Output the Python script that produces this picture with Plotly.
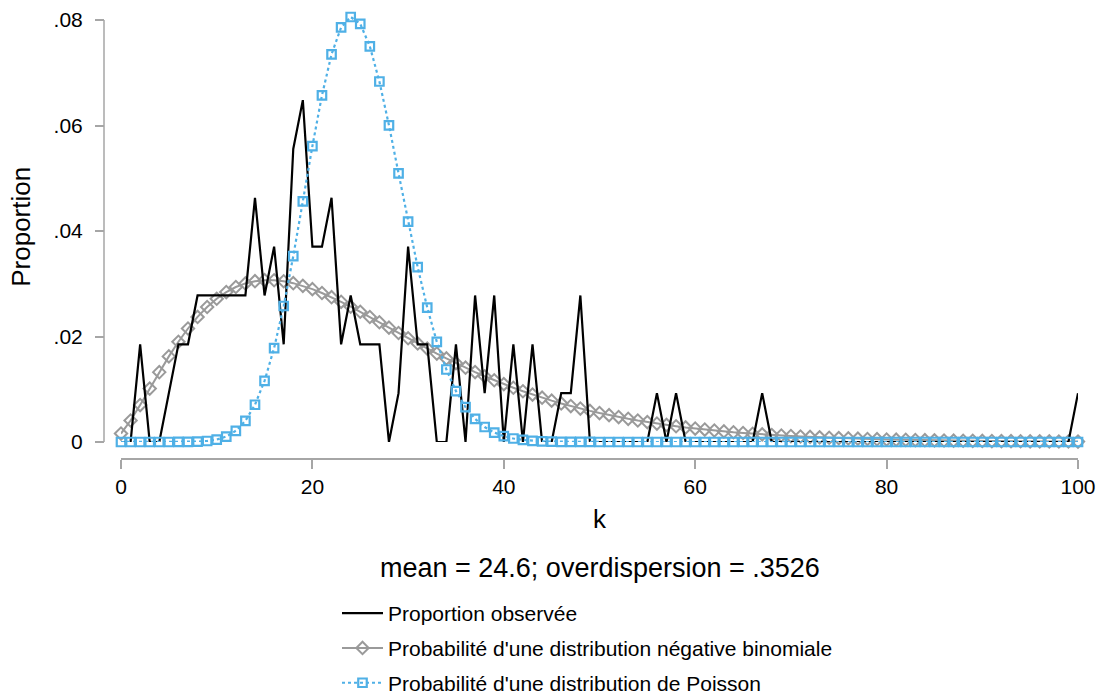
import plotly.graph_objects as go

# Observed count k = 0..100
k_values = list(range(101))

# Observed proportion for each k
observed = [
    0, 0, .01852, 0, 0, .00926, .01852, .01852, .02778, .02778,
    .02778, .02778, .02778, .02778, .04630, .02778, .03704, .01852, .05556, .06481,
    .03704, .03704, .04630, .01852, .02778, .01852, .01852, .01852, 0, .00926,
    .03704, .01852, .01852, 0, 0, .01852, 0, .02778, .00926, .02778,
    0, .01852, 0, .01852, 0, 0, .00926, .00926, .02778, 0,
    0, 0, 0, 0, 0, 0, .00926, 0, .00926, 0,
    0, 0, 0, 0, 0, 0, 0, .00926, 0, 0,
    0, 0, 0, 0, 0, 0, 0, 0, 0, 0,
    0, 0, 0, 0, 0, 0, 0, 0, 0, 0,
    0, 0, 0, 0, 0, 0, 0, 0, 0, 0,
    .00926,
]

# Negative binomial probabilities
negbin = [
    .00160, .00407, .00700, .01012, .01324, .01623, .01900, .02151, .02371, .02559,
    .02716, .02842, .02938, .03006, .03049, .03068, .03067, .03047, .03011, .02960,
    .02898, .02825, .02745, .02658, .02565, .02469, .02370, .02270, .02168, .02067,
    .01967, .01868, .01771, .01676, .01584, .01495, .01409, .01326, .01246, .01170,
    .01097, .01028, .00962, .00899, .00840, .00784, .00731, .00681, .00634, .00590,
    .00548, .00509, .00473, .00439, .00407, .00377, .00349, .00323, .00299, .00276,
    .00255, .00236, .00218, .00201, .00185, .00171, .00157, .00145, .00133, .00123,
    .00113, .00104, .00096, .00088, .00081, .00074, .00068, .00063, .00057, .00053,
    .00048, .00044, .00041, .00037, .00034, .00031, .00029, .00026, .00024, .00022,
    .00020, .00018, .00017, .00015, .00014, .00013, .00012, .00011, .00010, .00009,
    .00008,
]

# Poisson probabilities
poisson = [
    2.1e-11, 5.1e-10, 6.3e-9, 5.2e-8, 3.2e-7, 1.6e-6, 6.4e-6, 2.24e-5, 6.89e-5, 1.88e-4,
    .000463, .001036, .002125, .004021, .007065, .01159, .01781, .02578, .03523, .04561,
    .05610, .06572, .07349, .07860, .08057, .07928, .07501, .06834, .06004, .05093,
    .04176, .03314, .02548, .01899, .01374, .00966, .00660, .00439, .00284, .00179,
    .00110, .00066, .00039, .00022, .00012, 6.78e-5, 3.63e-5, 1.90e-5, 9.7e-6, 4.9e-6,
    2.4e-6, 1.2e-6, 5.5e-7, 2.5e-7, 1.1e-7, 5e-8, 2e-8, 1e-8, 0, 0,
    0, 0, 0, 0, 0, 0, 0, 0, 0, 0,
    0, 0, 0, 0, 0, 0, 0, 0, 0, 0,
    0, 0, 0, 0, 0, 0, 0, 0, 0, 0,
    0, 0, 0, 0, 0, 0, 0, 0, 0, 0,
    0,
]

x_ticks = [0, 20, 40, 60, 80, 100]
y_ticks = [0, .02, .04, .06, .08]
y_tick_labels = ["0", ".02", ".04", ".06", ".08"]

W, H = 1103, 698
FONT = "Liberation Sans, Arial, Helvetica, sans-serif"
AXIS_GREY = "#a6a6a6"
BLUE = "#4fb0e6"
GREY = "#9a9a9a"

# pixel geometry of the plotting region
X0_PX, X100_PX = 121, 1078          # k = 0 and k = 100
Y0_PX, Y08_PX = 442, 20             # proportion 0 and .08
Y_TOP = 0.0816                      # a little head-room above .08
px_per_unit = (Y0_PX - Y08_PX) / 0.08
ytop_px = Y0_PX - Y_TOP * px_per_unit

fig = go.Figure()

fig.add_trace(go.Scatter(
    x=k_values, y=negbin, mode="lines+markers",
    name="Probabilité d'une distribution négative binomiale",
    line=dict(color=GREY, width=2),
    marker=dict(symbol="diamond-open", size=9.5, color=GREY, line=dict(width=2, color=GREY)),
    cliponaxis=False, legendrank=2, legendgroup="nb",
))
fig.add_trace(go.Scatter(
    x=k_values, y=observed, mode="lines",
    name="Proportion observée",
    line=dict(color="black", width=2.2),
    cliponaxis=False, legendrank=1, legendgroup="obs",
))
fig.add_trace(go.Scatter(
    x=k_values, y=poisson, mode="lines+markers",
    name="Probabilité d'une distribution de Poisson",
    line=dict(color=BLUE, width=2.2, dash="dot"),
    marker=dict(symbol="square-open", size=8.5, color=BLUE, line=dict(width=2.2, color=BLUE)),
    cliponaxis=False, legendrank=3, legendgroup="pois",
))

fig.update_layout(
    width=W, height=H,
    margin=dict(l=0, r=0, t=0, b=0, autoexpand=False),
    paper_bgcolor="white", plot_bgcolor="white",
    font=dict(family=FONT, color="black", size=21),
    showlegend=True,
    legend=dict(
        x=337 / W, y=1 - 593 / H, xanchor="left", yanchor="top",
        font=dict(size=21), tracegroupgap=4.5, itemwidth=41,
        bgcolor="rgba(0,0,0,0)",
    ),
    xaxis=dict(
        domain=[X0_PX / W, X100_PX / W], range=[0, 100],
        anchor="free", position=1 - 459 / H,
        showline=True, linecolor=AXIS_GREY, linewidth=1.5,
        showgrid=False, zeroline=False,
        ticks="outside", ticklen=9, tickwidth=1.5, tickcolor=AXIS_GREY,
        tickvals=x_ticks, tickfont=dict(size=21), ticklabelstandoff=0,
        title=dict(text="k", font=dict(size=26), standoff=12),
        automargin=False,
    ),
    yaxis=dict(
        domain=[1 - Y0_PX / H, 1 - ytop_px / H], range=[0, Y_TOP],
        anchor="free", position=104 / W,
        showline=False,
        showgrid=False, zeroline=False,
        ticks="outside", ticklen=9, tickwidth=1.5, tickcolor=AXIS_GREY,
        tickvals=y_ticks, ticktext=y_tick_labels, tickfont=dict(size=21),
        ticklabelstandoff=8,
        title=dict(text="Proportion", font=dict(size=26), standoff=14),
        automargin=False,
    ),
    shapes=[dict(
        # vertical axis line spans 0 to .08 only
        type="line", xref="paper", yref="y",
        x0=104 / W, x1=104 / W, y0=0, y1=0.08,
        line=dict(color=AXIS_GREY, width=1.5),
    )],
    annotations=[dict(
        text="mean = 24.6; overdispersion = .3526",
        x=599.5 / W, y=1 - 568 / H, xref="paper", yref="paper",
        xanchor="center", yanchor="middle", showarrow=False,
        font=dict(size=27),
    )],
)

fig.write_html("out.html")
